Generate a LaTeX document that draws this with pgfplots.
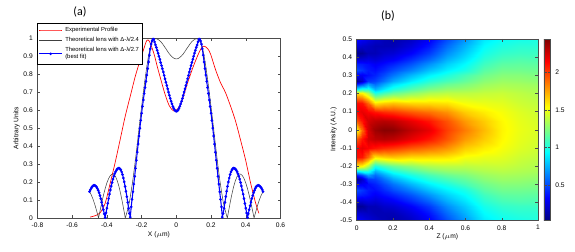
\documentclass[border=0pt]{standalone}
\usepackage{pgfplots}
\pgfplotsset{compat=1.18}
\usepackage{fontspec}
\setmainfont{Liberation Sans}
\newfontfamily\titlefont{Carlito}
\begin{document}
\begin{tikzpicture}
\useasboundingbox (0,0) rectangle (431.25pt,189pt);
\node[font=\titlefont\fontsize{9}{10}\selectfont] at (60pt,180pt) {(a)};
\node[font=\titlefont\fontsize{9}{10}\selectfont] at (291pt,177pt) {(b)};
\pgfplotsset{every axis/.append style={
  scale only axis,
  /pgf/number format/assume math mode=true,
  tick label style={font=\fontsize{5}{6}\selectfont},
  label style={font=\fontsize{5}{6}\selectfont},
  tick style={black!70, line width=0.3pt},
  major tick length=2pt,
  axis line style={black!70, line width=0.4pt},
}}
\begin{axis}[
  at={(28.1pt,25.5pt)}, anchor=south west,
  width=182.25pt, height=134.5pt,
  xmin=-0.8, xmax=0.6, ymin=0, ymax=1,
  xtick={-0.8,-0.6,-0.4,-0.2,0,0.2,0.4,0.6},
  ytick={0,0.1,0.2,0.3,0.4,0.5,0.6,0.7,0.8,0.9,1},
  xlabel={X ($\mu$m)}, ylabel={Arbitrary Units},
  xlabel style={yshift=4pt}, ylabel style={yshift=-4pt},
  legend style={at={(0,1.088)}, anchor=north west, font=\fontsize{4.4}{4.9}\selectfont,
    draw=black, line width=0.4pt, inner sep=0.8pt, row sep=-1pt,
    cells={align=left}},
  legend cell align=left,
]
\addplot[red, line width=0.5pt, smooth] coordinates {
(-0.497,0.005) (-0.47,0.012) (-0.44,0.028) (-0.41,0.082) (-0.382,0.19) (-0.353,0.307)
(-0.324,0.435) (-0.295,0.565) (-0.266,0.677) (-0.237,0.788) (-0.208,0.881) (-0.185,0.95)
(-0.17,0.99) (-0.155,0.985) (-0.13,0.92) (-0.11,0.845) (-0.09,0.775) (-0.065,0.69)
(-0.04,0.625) (-0.015,0.597) (0.01,0.61) (0.033,0.655) (0.062,0.745) (0.096,0.84)
(0.125,0.91) (0.145,0.948) (0.16,0.958) (0.18,0.945) (0.197,0.915) (0.225,0.83)
(0.254,0.756) (0.283,0.70) (0.312,0.625) (0.341,0.541) (0.37,0.435) (0.399,0.324)
(0.428,0.195) (0.457,0.083) (0.476,0.026)
};
\addlegendentry{Experimental Profile}
\addplot[black!75, line width=0.4pt] coordinates {
(-0.5,0.147) (-0.49,0.129) (-0.48,0.105) (-0.47,0.076) (-0.46,0.043) (-0.45,0.007) (-0.448,0)
(-0.44,0.038) (-0.43,0.083) (-0.42,0.126) (-0.41,0.164) (-0.4,0.196) (-0.39,0.22) (-0.38,0.237)
(-0.37,0.245) (-0.36,0.244) (-0.35,0.231) (-0.34,0.207) (-0.33,0.174) (-0.32,0.132) (-0.31,0.084)
(-0.3,0.032) (-0.294,0) (-0.29,0.013) (-0.28,0.048) (-0.27,0.09) (-0.26,0.15) (-0.25,0.215)
(-0.24,0.29) (-0.23,0.37) (-0.22,0.455) (-0.21,0.54) (-0.2,0.62) (-0.19,0.70) (-0.18,0.775)
(-0.17,0.845) (-0.16,0.905) (-0.15,0.95) (-0.14,0.98) (-0.13,0.995) (-0.12,1.0) (-0.11,0.998)
(-0.1,0.992) (-0.09,0.984) (-0.08,0.972) (-0.07,0.958) (-0.06,0.944) (-0.05,0.929) (-0.04,0.915)
(-0.03,0.904) (-0.02,0.895) (-0.01,0.889) (0,0.887)
(0.01,0.889) (0.02,0.895) (0.03,0.904) (0.04,0.915) (0.05,0.929) (0.06,0.944) (0.07,0.958)
(0.08,0.972) (0.09,0.984) (0.1,0.992) (0.11,0.998) (0.12,1.0) (0.13,0.995) (0.14,0.98)
(0.15,0.95) (0.16,0.905) (0.17,0.845) (0.18,0.775) (0.19,0.70) (0.2,0.62) (0.21,0.54)
(0.22,0.455) (0.23,0.37) (0.24,0.29) (0.25,0.215) (0.26,0.15) (0.27,0.09) (0.28,0.048)
(0.29,0.013) (0.294,0) (0.3,0.032) (0.31,0.084) (0.32,0.132) (0.33,0.174) (0.34,0.207)
(0.35,0.231) (0.36,0.244) (0.37,0.245) (0.38,0.237) (0.39,0.22) (0.4,0.196) (0.41,0.164)
(0.42,0.126) (0.43,0.083) (0.44,0.038) (0.448,0) (0.45,0.007) (0.46,0.043) (0.47,0.076)
(0.48,0.105) (0.49,0.129) (0.5,0.147)
};
\addlegendentry{Theoretical lens with Δ-λ/2.4}
\addplot[blue, line width=0.8pt, mark=*, mark size=0.55pt] coordinates {
(-0.5,0.147) (-0.495,0.158) (-0.49,0.167) (-0.485,0.174) (-0.48,0.179) (-0.475,0.182)
(-0.47,0.182) (-0.465,0.179) (-0.46,0.174) (-0.455,0.165) (-0.45,0.154) (-0.445,0.141)
(-0.44,0.125) (-0.435,0.108) (-0.43,0.088) (-0.425,0.068) (-0.42,0.046) (-0.415,0.023)
(-0.41,0.002) (-0.405,0.028) (-0.4,0.055) (-0.395,0.081) (-0.39,0.108) (-0.385,0.133)
(-0.38,0.156) (-0.375,0.178) (-0.37,0.198) (-0.365,0.217) (-0.36,0.233) (-0.355,0.247)
(-0.35,0.258) (-0.345,0.267) (-0.34,0.274) (-0.335,0.277) (-0.33,0.278) (-0.325,0.275)
(-0.32,0.268) (-0.315,0.257) (-0.31,0.242) (-0.305,0.223) (-0.3,0.201) (-0.295,0.176)
(-0.29,0.149) (-0.285,0.119) (-0.28,0.087) (-0.275,0.054) (-0.27,0.025) (-0.265,0.005)
(-0.26,0.062) (-0.255,0.104) (-0.25,0.146) (-0.245,0.189) (-0.24,0.232) (-0.235,0.277)
(-0.23,0.322) (-0.225,0.367) (-0.22,0.412) (-0.215,0.457) (-0.21,0.501) (-0.205,0.544)
(-0.2,0.584) (-0.195,0.622) (-0.19,0.658) (-0.185,0.694) (-0.18,0.727) (-0.175,0.762)
(-0.17,0.797) (-0.165,0.833) (-0.16,0.87) (-0.155,0.908) (-0.15,0.943) (-0.145,0.97)
(-0.14,0.987) (-0.135,0.997) (-0.13,0.997) (-0.125,0.982) (-0.12,0.965) (-0.115,0.951)
(-0.11,0.935) (-0.105,0.919) (-0.1,0.902) (-0.095,0.885) (-0.09,0.867) (-0.085,0.85)
(-0.08,0.832) (-0.075,0.814) (-0.07,0.795) (-0.065,0.776) (-0.06,0.757) (-0.055,0.739)
(-0.05,0.72) (-0.045,0.702) (-0.04,0.684) (-0.035,0.667) (-0.03,0.651) (-0.025,0.636)
(-0.02,0.622) (-0.015,0.611) (-0.01,0.602) (-0.005,0.597) (0,0.595)
(0.005,0.597) (0.01,0.602) (0.015,0.611) (0.02,0.622) (0.025,0.636) (0.03,0.651)
(0.035,0.667) (0.04,0.684) (0.045,0.702) (0.05,0.72) (0.055,0.739) (0.06,0.757)
(0.065,0.776) (0.07,0.795) (0.075,0.814) (0.08,0.832) (0.085,0.85) (0.09,0.867)
(0.095,0.885) (0.1,0.902) (0.105,0.919) (0.11,0.935) (0.115,0.951) (0.12,0.965)
(0.125,0.982) (0.13,0.997) (0.135,0.997) (0.14,0.987) (0.145,0.97) (0.15,0.943)
(0.155,0.908) (0.16,0.87) (0.165,0.833) (0.17,0.797) (0.175,0.762) (0.18,0.727)
(0.185,0.694) (0.19,0.658) (0.195,0.622) (0.2,0.584) (0.205,0.544) (0.21,0.501)
(0.215,0.457) (0.22,0.412) (0.225,0.367) (0.23,0.322) (0.235,0.277) (0.24,0.232)
(0.245,0.189) (0.25,0.146) (0.255,0.104) (0.26,0.062) (0.265,0.005) (0.27,0.025)
(0.275,0.054) (0.28,0.087) (0.285,0.119) (0.29,0.149) (0.295,0.176) (0.3,0.201)
(0.305,0.223) (0.31,0.242) (0.315,0.257) (0.32,0.268) (0.325,0.275) (0.33,0.278)
(0.335,0.277) (0.34,0.274) (0.345,0.267) (0.35,0.258) (0.355,0.247) (0.36,0.233)
(0.365,0.217) (0.37,0.198) (0.375,0.178) (0.38,0.156) (0.385,0.133) (0.39,0.108)
(0.395,0.081) (0.4,0.055) (0.405,0.028) (0.41,0.002) (0.415,0.023) (0.42,0.046)
(0.425,0.068) (0.43,0.088) (0.435,0.108) (0.44,0.125) (0.445,0.141) (0.45,0.154)
(0.455,0.165) (0.46,0.174) (0.465,0.179) (0.47,0.182) (0.475,0.182) (0.48,0.179)
(0.485,0.174) (0.49,0.167) (0.495,0.158) (0.5,0.147)
};
\addlegendentry{Theoretical lens with Δ-λ/2.7\\(best fit)}
\end{axis}
\begin{axis}[
  at={(267.5pt,23.5pt)}, anchor=south west,
  width=136pt, height=136.3pt,
  xmin=0, xmax=1, ymin=-0.5, ymax=0.5,
  enlargelimits=false, axis on top,
  xtick={0,0.2,0.4,0.6,0.8,1},
  ytick={-0.5,-0.4,-0.3,-0.2,-0.1,0,0.1,0.2,0.3,0.4,0.5},
  xlabel={Z ($\mu$m)}, ylabel={Intensity (A.U.)},
  xlabel style={yshift=4pt}, ylabel style={yshift=-4pt},
  colormap/jet,
  point meta min=0.02, point meta max=2.45,
  colorbar,
  colorbar style={at={(1.033,1)}, anchor=north west, width=5pt,
    ytick={0.5,1,1.5,2}, yticklabel pos=right,
    tick label style={font=\fontsize{5}{6}\selectfont},
    /pgf/number format/assume math mode=true},
]
\addplot[surf, shader=interp, mesh/cols=14, point meta=\thisrow{v}] table[row sep=\\] {
z y v\\
0 -0.5 0.35\\ 0.03 -0.5 0.3\\ 0.06 -0.5 0.25\\ 0.1 -0.5 0.2\\ 0.15 -0.5 0.15\\ 0.2 -0.5 0.12\\ 0.3 -0.5 0.18\\ 0.4 -0.5 0.3\\ 0.5 -0.5 0.5\\ 0.6 -0.5 0.68\\ 0.7 -0.5 0.88\\ 0.8 -0.5 0.95\\ 0.9 -0.5 0.98\\ 1 -0.5 1.0\\
0 -0.46 0.22\\ 0.03 -0.46 0.2\\ 0.06 -0.46 0.18\\ 0.1 -0.46 0.15\\ 0.15 -0.46 0.15\\ 0.2 -0.46 0.15\\ 0.3 -0.46 0.24\\ 0.4 -0.46 0.37\\ 0.5 -0.46 0.58\\ 0.6 -0.46 0.75\\ 0.7 -0.46 0.93\\ 0.8 -0.46 1.0\\ 0.9 -0.46 1.03\\ 1 -0.46 1.03\\
0 -0.42 0.06\\ 0.03 -0.42 0.08\\ 0.06 -0.42 0.15\\ 0.1 -0.42 0.15\\ 0.15 -0.42 0.2\\ 0.2 -0.42 0.22\\ 0.3 -0.42 0.32\\ 0.4 -0.42 0.46\\ 0.5 -0.42 0.66\\ 0.6 -0.42 0.81\\ 0.7 -0.42 0.98\\ 0.8 -0.42 1.05\\ 0.9 -0.42 1.07\\ 1 -0.42 1.07\\
0 -0.39 0.22\\ 0.03 -0.39 0.22\\ 0.06 -0.39 0.25\\ 0.1 -0.39 0.22\\ 0.15 -0.39 0.27\\ 0.2 -0.39 0.3\\ 0.3 -0.39 0.42\\ 0.4 -0.39 0.56\\ 0.5 -0.39 0.74\\ 0.6 -0.39 0.87\\ 0.7 -0.39 1.03\\ 0.8 -0.39 1.1\\ 0.9 -0.39 1.12\\ 1 -0.39 1.11\\
0 -0.36 0.4\\ 0.03 -0.36 0.38\\ 0.06 -0.36 0.35\\ 0.1 -0.36 0.3\\ 0.15 -0.36 0.35\\ 0.2 -0.36 0.4\\ 0.3 -0.36 0.52\\ 0.4 -0.36 0.67\\ 0.5 -0.36 0.82\\ 0.6 -0.36 0.93\\ 0.7 -0.36 1.08\\ 0.8 -0.36 1.15\\ 0.9 -0.36 1.16\\ 1 -0.36 1.15\\
0 -0.33 0.5\\ 0.03 -0.33 0.45\\ 0.06 -0.33 0.38\\ 0.1 -0.33 0.35\\ 0.15 -0.33 0.42\\ 0.2 -0.33 0.5\\ 0.3 -0.33 0.63\\ 0.4 -0.33 0.78\\ 0.5 -0.33 0.9\\ 0.6 -0.33 0.99\\ 0.7 -0.33 1.14\\ 0.8 -0.33 1.2\\ 0.9 -0.33 1.2\\ 1 -0.33 1.19\\
0 -0.3 0.3\\ 0.03 -0.3 0.3\\ 0.06 -0.3 0.35\\ 0.1 -0.3 0.4\\ 0.15 -0.3 0.5\\ 0.2 -0.3 0.6\\ 0.3 -0.3 0.76\\ 0.4 -0.3 0.9\\ 0.5 -0.3 1.0\\ 0.6 -0.3 1.1\\ 0.7 -0.3 1.2\\ 0.8 -0.3 1.25\\ 0.9 -0.3 1.25\\ 1 -0.3 1.23\\
0 -0.27 0.08\\ 0.03 -0.27 0.2\\ 0.06 -0.27 0.45\\ 0.1 -0.27 0.48\\ 0.15 -0.27 0.6\\ 0.2 -0.27 0.73\\ 0.3 -0.27 0.89\\ 0.4 -0.27 1.02\\ 0.5 -0.27 1.1\\ 0.6 -0.27 1.17\\ 0.7 -0.27 1.26\\ 0.8 -0.27 1.3\\ 0.9 -0.27 1.29\\ 1 -0.27 1.27\\
0 -0.25 0.4\\ 0.03 -0.25 0.5\\ 0.06 -0.25 0.7\\ 0.1 -0.25 0.58\\ 0.15 -0.25 0.72\\ 0.2 -0.25 0.85\\ 0.3 -0.25 0.99\\ 0.4 -0.25 1.1\\ 0.5 -0.25 1.18\\ 0.6 -0.25 1.23\\ 0.7 -0.25 1.3\\ 0.8 -0.25 1.33\\ 0.9 -0.25 1.32\\ 1 -0.25 1.3\\
0 -0.225 0.9\\ 0.03 -0.225 1.0\\ 0.06 -0.225 1.0\\ 0.1 -0.225 0.75\\ 0.15 -0.225 0.88\\ 0.2 -0.225 1.0\\ 0.3 -0.225 1.12\\ 0.4 -0.225 1.22\\ 0.5 -0.225 1.28\\ 0.6 -0.225 1.3\\ 0.7 -0.225 1.35\\ 0.8 -0.225 1.37\\ 0.9 -0.225 1.35\\ 1 -0.225 1.33\\
0 -0.2 1.6\\ 0.03 -0.2 1.55\\ 0.06 -0.2 1.35\\ 0.1 -0.2 1.0\\ 0.15 -0.2 1.1\\ 0.2 -0.2 1.18\\ 0.3 -0.2 1.27\\ 0.4 -0.2 1.35\\ 0.5 -0.2 1.38\\ 0.6 -0.2 1.38\\ 0.7 -0.2 1.4\\ 0.8 -0.2 1.41\\ 0.9 -0.2 1.38\\ 1 -0.2 1.35\\
0 -0.15 2.12\\ 0.03 -0.15 2.1\\ 0.06 -0.15 1.9\\ 0.1 -0.15 1.6\\ 0.15 -0.15 1.65\\ 0.2 -0.15 1.68\\ 0.3 -0.15 1.63\\ 0.4 -0.15 1.62\\ 0.5 -0.15 1.6\\ 0.6 -0.15 1.52\\ 0.7 -0.15 1.49\\ 0.8 -0.15 1.47\\ 0.9 -0.15 1.42\\ 1 -0.15 1.39\\
0 -0.1 2.15\\ 0.03 -0.1 2.2\\ 0.06 -0.1 2.15\\ 0.1 -0.1 2.1\\ 0.15 -0.1 2.05\\ 0.2 -0.1 2.02\\ 0.3 -0.1 1.94\\ 0.4 -0.1 1.88\\ 0.5 -0.1 1.8\\ 0.6 -0.1 1.66\\ 0.7 -0.1 1.58\\ 0.8 -0.1 1.52\\ 0.9 -0.1 1.46\\ 1 -0.1 1.42\\
0 -0.05 1.95\\ 0.03 -0.05 2.1\\ 0.06 -0.05 2.25\\ 0.1 -0.05 2.3\\ 0.15 -0.05 2.32\\ 0.2 -0.05 2.3\\ 0.3 -0.05 2.2\\ 0.4 -0.05 2.1\\ 0.5 -0.05 1.95\\ 0.6 -0.05 1.78\\ 0.7 -0.05 1.66\\ 0.8 -0.05 1.55\\ 0.9 -0.05 1.48\\ 1 -0.05 1.44\\
0 0 1.55\\ 0.03 0 1.9\\ 0.06 0 2.25\\ 0.1 0 2.38\\ 0.15 0 2.43\\ 0.2 0 2.42\\ 0.3 0 2.3\\ 0.4 0 2.2\\ 0.5 0 2.0\\ 0.6 0 1.85\\ 0.7 0 1.7\\ 0.8 0 1.56\\ 0.9 0 1.49\\ 1 0 1.45\\
0 0.05 1.95\\ 0.03 0.05 2.1\\ 0.06 0.05 2.25\\ 0.1 0.05 2.3\\ 0.15 0.05 2.32\\ 0.2 0.05 2.3\\ 0.3 0.05 2.2\\ 0.4 0.05 2.1\\ 0.5 0.05 1.95\\ 0.6 0.05 1.78\\ 0.7 0.05 1.66\\ 0.8 0.05 1.55\\ 0.9 0.05 1.48\\ 1 0.05 1.44\\
0 0.1 2.15\\ 0.03 0.1 2.2\\ 0.06 0.1 2.15\\ 0.1 0.1 2.1\\ 0.15 0.1 2.05\\ 0.2 0.1 2.02\\ 0.3 0.1 1.94\\ 0.4 0.1 1.88\\ 0.5 0.1 1.8\\ 0.6 0.1 1.66\\ 0.7 0.1 1.58\\ 0.8 0.1 1.52\\ 0.9 0.1 1.46\\ 1 0.1 1.42\\
0 0.15 2.12\\ 0.03 0.15 2.1\\ 0.06 0.15 1.9\\ 0.1 0.15 1.6\\ 0.15 0.15 1.65\\ 0.2 0.15 1.68\\ 0.3 0.15 1.63\\ 0.4 0.15 1.62\\ 0.5 0.15 1.6\\ 0.6 0.15 1.52\\ 0.7 0.15 1.49\\ 0.8 0.15 1.47\\ 0.9 0.15 1.42\\ 1 0.15 1.39\\
0 0.2 1.6\\ 0.03 0.2 1.55\\ 0.06 0.2 1.35\\ 0.1 0.2 1.0\\ 0.15 0.2 1.1\\ 0.2 0.2 1.18\\ 0.3 0.2 1.27\\ 0.4 0.2 1.35\\ 0.5 0.2 1.38\\ 0.6 0.2 1.38\\ 0.7 0.2 1.4\\ 0.8 0.2 1.41\\ 0.9 0.2 1.38\\ 1 0.2 1.35\\
0 0.225 0.9\\ 0.03 0.225 1.0\\ 0.06 0.225 1.0\\ 0.1 0.225 0.75\\ 0.15 0.225 0.88\\ 0.2 0.225 1.0\\ 0.3 0.225 1.12\\ 0.4 0.225 1.22\\ 0.5 0.225 1.28\\ 0.6 0.225 1.3\\ 0.7 0.225 1.35\\ 0.8 0.225 1.37\\ 0.9 0.225 1.35\\ 1 0.225 1.33\\
0 0.25 0.4\\ 0.03 0.25 0.5\\ 0.06 0.25 0.7\\ 0.1 0.25 0.58\\ 0.15 0.25 0.72\\ 0.2 0.25 0.85\\ 0.3 0.25 0.99\\ 0.4 0.25 1.1\\ 0.5 0.25 1.18\\ 0.6 0.25 1.23\\ 0.7 0.25 1.3\\ 0.8 0.25 1.33\\ 0.9 0.25 1.32\\ 1 0.25 1.3\\
0 0.27 0.08\\ 0.03 0.27 0.2\\ 0.06 0.27 0.45\\ 0.1 0.27 0.48\\ 0.15 0.27 0.6\\ 0.2 0.27 0.73\\ 0.3 0.27 0.89\\ 0.4 0.27 1.02\\ 0.5 0.27 1.1\\ 0.6 0.27 1.17\\ 0.7 0.27 1.26\\ 0.8 0.27 1.3\\ 0.9 0.27 1.29\\ 1 0.27 1.27\\
0 0.3 0.3\\ 0.03 0.3 0.3\\ 0.06 0.3 0.35\\ 0.1 0.3 0.4\\ 0.15 0.3 0.5\\ 0.2 0.3 0.6\\ 0.3 0.3 0.76\\ 0.4 0.3 0.9\\ 0.5 0.3 1.0\\ 0.6 0.3 1.1\\ 0.7 0.3 1.2\\ 0.8 0.3 1.25\\ 0.9 0.3 1.25\\ 1 0.3 1.23\\
0 0.33 0.5\\ 0.03 0.33 0.45\\ 0.06 0.33 0.38\\ 0.1 0.33 0.35\\ 0.15 0.33 0.42\\ 0.2 0.33 0.5\\ 0.3 0.33 0.63\\ 0.4 0.33 0.78\\ 0.5 0.33 0.9\\ 0.6 0.33 0.99\\ 0.7 0.33 1.14\\ 0.8 0.33 1.2\\ 0.9 0.33 1.2\\ 1 0.33 1.19\\
0 0.36 0.4\\ 0.03 0.36 0.38\\ 0.06 0.36 0.35\\ 0.1 0.36 0.3\\ 0.15 0.36 0.35\\ 0.2 0.36 0.4\\ 0.3 0.36 0.52\\ 0.4 0.36 0.67\\ 0.5 0.36 0.82\\ 0.6 0.36 0.93\\ 0.7 0.36 1.08\\ 0.8 0.36 1.15\\ 0.9 0.36 1.16\\ 1 0.36 1.15\\
0 0.39 0.22\\ 0.03 0.39 0.22\\ 0.06 0.39 0.25\\ 0.1 0.39 0.22\\ 0.15 0.39 0.27\\ 0.2 0.39 0.3\\ 0.3 0.39 0.42\\ 0.4 0.39 0.56\\ 0.5 0.39 0.74\\ 0.6 0.39 0.87\\ 0.7 0.39 1.03\\ 0.8 0.39 1.1\\ 0.9 0.39 1.12\\ 1 0.39 1.11\\
0 0.42 0.06\\ 0.03 0.42 0.08\\ 0.06 0.42 0.15\\ 0.1 0.42 0.15\\ 0.15 0.42 0.2\\ 0.2 0.42 0.22\\ 0.3 0.42 0.32\\ 0.4 0.42 0.46\\ 0.5 0.42 0.66\\ 0.6 0.42 0.81\\ 0.7 0.42 0.98\\ 0.8 0.42 1.05\\ 0.9 0.42 1.07\\ 1 0.42 1.07\\
0 0.46 0.22\\ 0.03 0.46 0.2\\ 0.06 0.46 0.18\\ 0.1 0.46 0.15\\ 0.15 0.46 0.15\\ 0.2 0.46 0.15\\ 0.3 0.46 0.24\\ 0.4 0.46 0.37\\ 0.5 0.46 0.58\\ 0.6 0.46 0.75\\ 0.7 0.46 0.93\\ 0.8 0.46 1.0\\ 0.9 0.46 1.03\\ 1 0.46 1.03\\
0 0.5 0.35\\ 0.03 0.5 0.3\\ 0.06 0.5 0.25\\ 0.1 0.5 0.2\\ 0.15 0.5 0.15\\ 0.2 0.5 0.12\\ 0.3 0.5 0.18\\ 0.4 0.5 0.3\\ 0.5 0.5 0.5\\ 0.6 0.5 0.68\\ 0.7 0.5 0.88\\ 0.8 0.5 0.95\\ 0.9 0.5 0.98\\ 1 0.5 1.0\\
};
\end{axis}
\end{tikzpicture}
\end{document}
